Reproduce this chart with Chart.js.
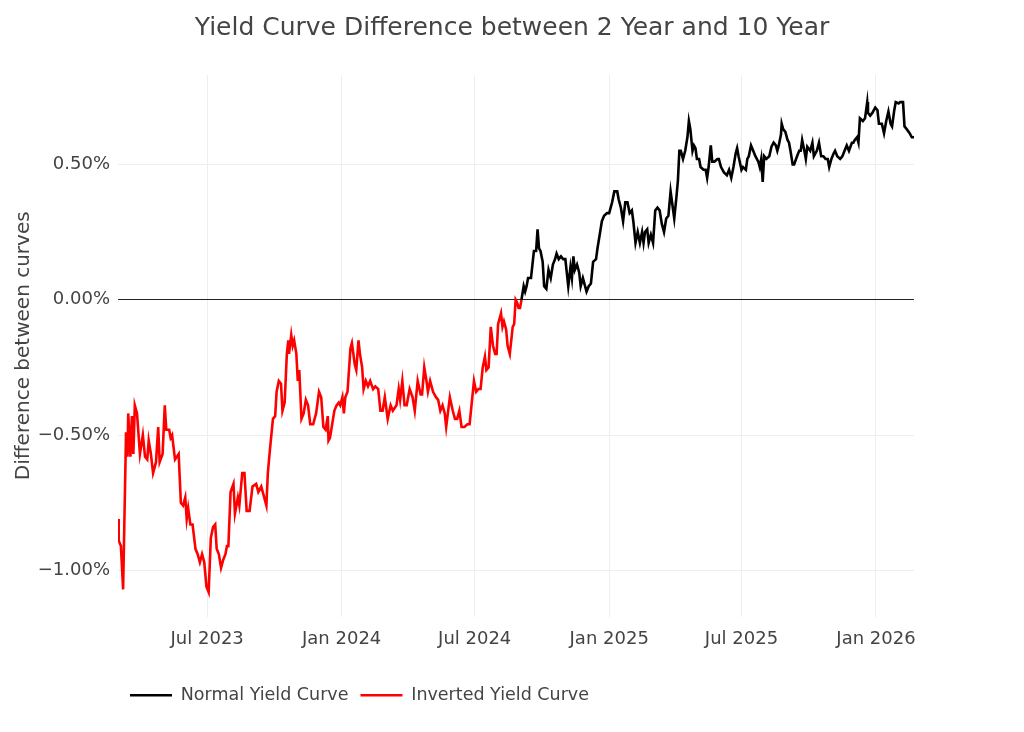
<!DOCTYPE html>
<html>
<head>
<meta charset="utf-8">
<title>Yield Curve Difference</title>
<script src="https://cdn.jsdelivr.net/npm/chart.js@4.4.1/dist/chart.umd.min.js"></script>
<style>
  html, body { margin: 0; padding: 0; background: #fff; }
  #wrap { width: 1024px; height: 732px; position: relative; }
</style>
</head>
<body>
<div id="wrap"><canvas id="myChart"></canvas></div>
<script>
/* Data: 10Y minus 2Y spread, in percent */
const dates = [
  '2023-03-01','2023-03-02','2023-03-05','2023-03-08','2023-03-12','2023-03-14','2023-03-15','2023-03-18','2023-03-20','2023-03-22',
  '2023-03-24','2023-03-27','2023-03-31','2023-04-04','2023-04-07','2023-04-10','2023-04-12','2023-04-15','2023-04-18','2023-04-22',
  '2023-04-25','2023-04-27','2023-05-01','2023-05-04','2023-05-06','2023-05-10','2023-05-12','2023-05-14','2023-05-18','2023-05-23',
  '2023-05-26','2023-05-29','2023-06-01','2023-06-03','2023-06-05','2023-06-08','2023-06-11','2023-06-15','2023-06-18','2023-06-21',
  '2023-06-24','2023-06-27','2023-06-30','2023-07-03','2023-07-06','2023-07-09','2023-07-12','2023-07-14','2023-07-17','2023-07-20',
  '2023-07-23','2023-07-26','2023-07-28','2023-07-30','2023-08-02','2023-08-06','2023-08-08','2023-08-12','2023-08-14','2023-08-18',
  '2023-08-21','2023-08-24','2023-08-28','2023-09-01','2023-09-06','2023-09-09','2023-09-13','2023-09-16','2023-09-20','2023-09-22',
  '2023-09-25','2023-09-29','2023-10-02','2023-10-04','2023-10-07','2023-10-10','2023-10-12','2023-10-15','2023-10-18','2023-10-20',
  '2023-10-21','2023-10-24','2023-10-26','2023-10-28','2023-10-31','2023-11-02','2023-11-04','2023-11-07','2023-11-10','2023-11-13',
  '2023-11-16','2023-11-19','2023-11-23','2023-11-27','2023-12-01','2023-12-04','2023-12-07','2023-12-10','2023-12-13','2023-12-14',
  '2023-12-16','2023-12-19','2023-12-22','2023-12-25','2023-12-28','2023-12-30','2024-01-02','2024-01-04','2024-01-06','2024-01-09',
  '2024-01-13','2024-01-15','2024-01-19','2024-01-21','2024-01-24','2024-01-26','2024-01-29','2024-01-31','2024-02-03','2024-02-06',
  '2024-02-09','2024-02-13','2024-02-16','2024-02-20','2024-02-23','2024-02-26','2024-02-29','2024-03-04','2024-03-08','2024-03-11',
  '2024-03-16','2024-03-19','2024-03-21','2024-03-24','2024-03-27','2024-03-30','2024-04-03','2024-04-07','2024-04-10','2024-04-14',
  '2024-04-18','2024-04-20','2024-04-23','2024-04-26','2024-04-28','2024-05-01','2024-05-05','2024-05-09','2024-05-12','2024-05-15',
  '2024-05-18','2024-05-21','2024-05-23','2024-05-28','2024-06-01','2024-06-04','2024-06-07','2024-06-10','2024-06-13','2024-06-17',
  '2024-06-21','2024-06-24','2024-06-27','2024-06-30','2024-07-03','2024-07-06','2024-07-09','2024-07-12','2024-07-15','2024-07-17',
  '2024-07-20','2024-07-23','2024-07-26','2024-07-29','2024-07-31','2024-08-02','2024-08-06','2024-08-08','2024-08-10','2024-08-13',
  '2024-08-15','2024-08-18','2024-08-22','2024-08-24','2024-08-26','2024-08-28','2024-08-30','2024-09-01','2024-09-03','2024-09-06',
  '2024-09-08','2024-09-10','2024-09-12','2024-09-16','2024-09-18','2024-09-20','2024-09-23','2024-09-25','2024-09-27','2024-09-29',
  '2024-10-02','2024-10-04','2024-10-07','2024-10-10','2024-10-13','2024-10-16','2024-10-19','2024-10-21','2024-10-24','2024-10-27',
  '2024-10-30','2024-11-02','2024-11-04','2024-11-06','2024-11-09','2024-11-11','2024-11-13','2024-11-15','2024-11-18','2024-11-21',
  '2024-11-23','2024-11-26','2024-11-29','2024-12-01','2024-12-04','2024-12-07','2024-12-10','2024-12-14','2024-12-16','2024-12-19',
  '2024-12-22','2024-12-25','2024-12-29','2025-01-01','2025-01-05','2025-01-08','2025-01-12','2025-01-14','2025-01-17','2025-01-20',
  '2025-01-23','2025-01-26','2025-01-29','2025-02-01','2025-02-03','2025-02-06','2025-02-09','2025-02-12','2025-02-15','2025-02-17',
  '2025-02-19','2025-02-22','2025-02-24','2025-02-27','2025-03-02','2025-03-05','2025-03-08','2025-03-11','2025-03-14','2025-03-17',
  '2025-03-20','2025-03-23','2025-03-26','2025-03-28','2025-03-31','2025-04-03','2025-04-05','2025-04-07','2025-04-09','2025-04-12',
  '2025-04-15','2025-04-18','2025-04-20','2025-04-22','2025-04-25','2025-04-27','2025-04-29','2025-05-01','2025-05-04','2025-05-06',
  '2025-05-10','2025-05-13','2025-05-15','2025-05-17','2025-05-20','2025-05-22','2025-05-25','2025-05-29','2025-05-31','2025-06-03',
  '2025-06-07','2025-06-11','2025-06-14','2025-06-17','2025-06-20','2025-06-23','2025-06-25','2025-06-27','2025-07-01','2025-07-03',
  '2025-07-07','2025-07-09','2025-07-11','2025-07-14','2025-07-17','2025-07-20','2025-07-24','2025-07-26','2025-07-28','2025-07-30',
  '2025-08-01','2025-08-04','2025-08-08','2025-08-11','2025-08-14','2025-08-17','2025-08-19','2025-08-21','2025-08-24','2025-08-25',
  '2025-08-27','2025-08-30','2025-09-02','2025-09-04','2025-09-06','2025-09-09','2025-09-11','2025-09-15','2025-09-18','2025-09-20',
  '2025-09-22','2025-09-25','2025-09-27','2025-09-29','2025-10-03','2025-10-06','2025-10-08','2025-10-12','2025-10-15','2025-10-18',
  '2025-10-21','2025-10-24','2025-10-27','2025-10-29','2025-11-01','2025-11-04','2025-11-06','2025-11-09','2025-11-13','2025-11-16',
  '2025-11-19','2025-11-22','2025-11-25','2025-11-29','2025-12-01','2025-12-03','2025-12-06','2025-12-08','2025-12-10','2025-12-14',
  '2025-12-17','2025-12-20','2025-12-21','2025-12-24','2025-12-27','2025-12-31','2026-01-03','2026-01-05','2026-01-09','2026-01-12',
  '2026-01-15','2026-01-18','2026-01-21','2026-01-23','2026-01-26','2026-01-28','2026-02-01','2026-02-03','2026-02-07','2026-02-09',
  '2026-02-12','2026-02-16','2026-02-19','2026-02-22'
];

const spread = [
  -0.81,-0.89,-0.91,-1.07,-0.49,-0.58,-0.42,-0.58,-0.43,-0.57,
  -0.39,-0.42,-0.57,-0.50,-0.58,-0.59,-0.52,-0.57,-0.64,-0.60,
  -0.47,-0.60,-0.57,-0.39,-0.48,-0.48,-0.51,-0.50,-0.59,-0.57,
  -0.75,-0.76,-0.73,-0.81,-0.77,-0.83,-0.83,-0.92,-0.94,-0.97,
  -0.94,-0.97,-1.06,-1.08,-0.88,-0.84,-0.83,-0.92,-0.94,-0.99,
  -0.96,-0.94,-0.91,-0.91,-0.71,-0.68,-0.79,-0.73,-0.76,-0.64,
  -0.64,-0.78,-0.78,-0.69,-0.68,-0.71,-0.69,-0.72,-0.76,-0.64,
  -0.55,-0.44,-0.43,-0.34,-0.30,-0.31,-0.41,-0.38,-0.20,-0.15,
  -0.20,-0.13,-0.17,-0.15,-0.20,-0.30,-0.26,-0.44,-0.42,-0.37,
  -0.39,-0.46,-0.46,-0.42,-0.34,-0.36,-0.47,-0.48,-0.43,-0.52,
  -0.51,-0.46,-0.41,-0.39,-0.38,-0.39,-0.36,-0.42,-0.36,-0.34,
  -0.18,-0.16,-0.24,-0.26,-0.15,-0.20,-0.25,-0.33,-0.30,-0.32,
  -0.30,-0.33,-0.32,-0.33,-0.41,-0.41,-0.36,-0.44,-0.39,-0.41,
  -0.39,-0.33,-0.37,-0.30,-0.39,-0.39,-0.33,-0.36,-0.41,-0.30,
  -0.35,-0.35,-0.25,-0.30,-0.34,-0.30,-0.34,-0.36,-0.37,-0.41,
  -0.39,-0.42,-0.47,-0.36,-0.41,-0.44,-0.44,-0.41,-0.47,-0.47,
  -0.46,-0.46,-0.38,-0.30,-0.34,-0.33,-0.33,-0.25,-0.21,-0.26,
  -0.25,-0.10,-0.17,-0.20,-0.20,-0.09,-0.05,-0.10,-0.08,-0.11,
  -0.17,-0.20,-0.10,-0.09,0.00,-0.01,-0.03,-0.03,0.00,0.05,
  0.03,0.05,0.08,0.08,0.13,0.18,0.18,0.26,0.19,0.18,
  0.14,0.05,0.04,0.11,0.08,0.13,0.15,0.17,0.15,0.16,
  0.15,0.15,0.10,0.05,0.12,0.08,0.16,0.11,0.13,0.10,
  0.05,0.08,0.05,0.03,0.05,0.06,0.14,0.15,0.19,0.24,
  0.29,0.31,0.32,0.32,0.36,0.40,0.40,0.37,0.34,0.29,
  0.36,0.36,0.32,0.33,0.29,0.21,0.25,0.21,0.25,0.21,
  0.25,0.26,0.21,0.24,0.21,0.33,0.34,0.33,0.28,0.25,
  0.30,0.31,0.40,0.36,0.30,0.38,0.44,0.55,0.55,0.52,
  0.55,0.60,0.66,0.63,0.55,0.57,0.56,0.52,0.52,0.49,
  0.48,0.48,0.45,0.49,0.57,0.51,0.51,0.52,0.52,0.49,
  0.47,0.46,0.48,0.45,0.49,0.54,0.56,0.53,0.48,0.49,
  0.48,0.52,0.53,0.57,0.55,0.53,0.51,0.49,0.52,0.435,
  0.53,0.52,0.53,0.565,0.58,0.57,0.55,0.57,0.61,0.65,
  0.63,0.62,0.59,0.58,0.55,0.50,0.50,0.53,0.55,0.55,
  0.59,0.55,0.52,0.565,0.55,0.58,0.53,0.55,0.58,0.53,
  0.53,0.52,0.52,0.49,0.52,0.54,0.55,0.53,0.52,0.53,
  0.55,0.57,0.55,0.58,0.58,0.59,0.60,0.58,0.67,0.66,
  0.67,0.73,0.69,0.68,0.69,0.71,0.70,0.65,0.65,0.615,
  0.66,0.695,0.65,0.64,0.70,0.73,0.725,0.73,0.73,0.64,
  0.63,0.615,0.60,0.60
];

const seriesNames = ['Normal Yield Curve', 'Inverted Yield Curve'];
const seriesColors = ['#000000', '#ff0000'];

const tickDates = ['2023-07-01', '2024-01-01', '2024-07-01', '2025-01-01', '2025-07-01', '2026-01-01'];
const tickLabels = ['Jul 2023', 'Jan 2024', 'Jul 2024', 'Jan 2025', 'Jul 2025', 'Jan 2026'];
const yTicks = [-1, -0.5, 0, 0.5];
const yTickLabels = ['\u22121.00%', '\u22120.50%', '0.00%', '0.50%'];

/* dates -> day numbers for a linear x axis */
function toDay(s){
    return Date.parse(s + 'T00:00:00Z') / 864e5
}

const points = dates.map((d, i) => ({x: toDay(d), y: spread[i]}))
const FONT = "'DejaVu Sans', Verdana, sans-serif"
const TXT = '#444'

const ctx = document.getElementById('myChart').getContext('2d');
const myChart = new Chart(ctx, {
    type: 'line',
    data: {
        datasets: [{
            label: seriesNames[0],
            data: points,
            borderColor: seriesColors[0],
            backgroundColor: seriesColors[0],
            borderWidth: 2.6,
            pointRadius: 0,
            tension: 0,
            segment: {
                // red while the curve is inverted
                borderColor: c => (c.p0.parsed.y + c.p1.parsed.y) / 2 < 0 ? seriesColors[1] : seriesColors[0]
            }
        }, {
            label: seriesNames[1],
            data: [],
            borderColor: seriesColors[1],
            backgroundColor: seriesColors[1],
            borderWidth: 2.6,
            pointRadius: 0
        }]
    },
    options: {
        responsive: true,
        maintainAspectRatio: false,
        animation: false,
        layout: { padding: { left: 0, right: 0, top: 0, bottom: 18 } },
        plugins: {
            title: {
                display: true,
                text: 'Yield Curve Difference between 2 Year and 10 Year',
                color: TXT,
                font: { family: FONT, size: 25, weight: 'normal' },
                padding: { top: 13, bottom: 32 }
            },
            legend: {
                position: 'bottom',
                align: 'start',
                fullSize: false,
                labels: {
                    color: TXT,
                    font: { family: FONT, size: 17.5 },
                    usePointStyle: true,
                    pointStyle: 'line',
                    pointStyleWidth: 42,
                    padding: 12
                }
            },
            tooltip: { enabled: false }
        },
        scales: {
            x: {
                type: 'linear',
                min: toDay(dates[0]),
                max: toDay(dates[dates.length - 1]),
                afterBuildTicks: scale => { scale.ticks = tickDates.map(d => ({value: toDay(d)})) },
                afterFit: scale => { scale.height = 58 },
                border: { display: false },
                grid: { color: '#eeeeee', lineWidth: 1, drawTicks: false },
                ticks: {
                    color: TXT,
                    font: { family: FONT, size: 18 },
                    padding: 12,
                    maxRotation: 0,
                    autoSkip: false,
                    callback: (v, i) => tickLabels[i]
                }
            },
            y: {
                min: -1.17,
                max: 0.83,
                afterBuildTicks: scale => { scale.ticks = yTicks.map(v => ({value: v})) },
                afterFit: scale => { scale.width = 118 },
                border: { display: false },
                grid: {
                    color: c => c.tick && c.tick.value === 0 ? '#222222' : '#eeeeee',
                    lineWidth: 1,
                    drawTicks: false
                },
                ticks: {
                    color: TXT,
                    font: { family: FONT, size: 18 },
                    padding: 8,
                    callback: (v, i) => yTickLabels[i]
                },
                title: {
                    display: true,
                    text: 'Difference between curves',
                    color: TXT,
                    font: { family: FONT, size: 20 },
                    padding: { top: 12, bottom: 0 }
                }
            },
            // empty right-hand axis that only reserves the right margin
            yRight: {
                position: 'right',
                display: true,
                afterFit: scale => { scale.width = 110 },
                border: { display: false },
                grid: { display: false },
                ticks: { display: false }
            }
        }
    }
});
</script>
</body>
</html>
